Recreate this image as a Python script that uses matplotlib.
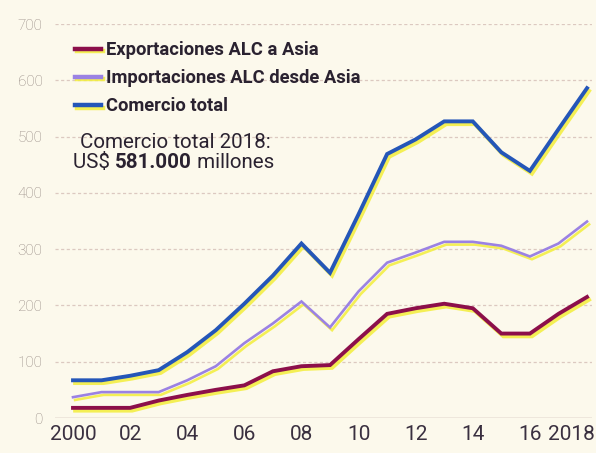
import matplotlib
matplotlib.use("Agg")
import matplotlib.pyplot as plt
import matplotlib.patheffects as pe
import matplotlib.transforms as mtransforms

# Datos (miles de millones de US$)
anos = list(range(2000, 2019))
exportaciones = [18, 18, 18, 31, 41, 50, 58, 83, 92, 94, 140, 185, 195, 203, 195, 150, 150, 185, 215]
importaciones = [37, 46, 46, 46, 67, 92, 133, 168, 207, 161, 225, 276, 294, 313, 313, 306, 287, 310, 349]
comercio_total = [67, 67, 75, 85, 117, 156, 203, 253, 310, 258, 362, 469, 495, 527, 527, 472, 439, 513, 586]

series = ["Exportaciones ALC a Asia", "Importaciones ALC desde Asia", "Comercio total"]
colores = ["#8c0f4a", "#9b82e3", "#2456b8"]
grosores = [2.8, 1.9, 2.8]

xticks = list(range(2000, 2019, 2))
xlabels = ["2000", "02", "04", "06", "08", "10", "12", "14", "16", "2018"]
yticks = list(range(0, 800, 100))

FONDO = "#fcf9ec"
TEXTO = "#2a2230"
FUENTE = ["Roboto", "DejaVu Sans"]

fig = plt.figure(figsize=(5.96, 4.53), dpi=100, facecolor=FONDO)
ax = fig.add_axes([55 / 596, 1 - 418 / 453, 537 / 596, 394 / 453], facecolor=FONDO)

sombra = [pe.SimpleLineShadow(offset=(1.5, -2.0), shadow_color="#f3ee3a", alpha=0.85), pe.Normal()]

for valores, nombre, color, lw in zip([exportaciones, importaciones, comercio_total], series, colores, grosores):
    ax.plot(anos, valores, color=color, lw=lw, label=nombre, solid_joinstyle="miter",
            path_effects=sombra, zorder=3)

ax.set_xlim(2000 - 18 / 28.55, 2018 + 5 / 28.55)
ax.set_ylim(0, 700)

ax.set_yticks(yticks)
ax.set_yticklabels([str(v) for v in yticks])
ax.set_xticks(xticks)
ax.set_xticklabels(xlabels)

for v in yticks[1:]:
    ax.axhline(v, color="#dcc9c0", lw=0.9, ls=(0, (2.5, 2)), zorder=1)
ax.axhline(0, color="#b59f9c", lw=1.0, zorder=2)

for s in ax.spines.values():
    s.set_visible(False)
ax.tick_params(axis="both", length=0)
ax.tick_params(axis="y", pad=9, labelsize=11, labelcolor="#928680")
ax.tick_params(axis="x", pad=5, labelsize=15, labelcolor="#3a3040")
for t in ax.get_xticklabels():
    t.set_family(FUENTE)
for t in ax.get_yticklabels():
    t.set_family(FUENTE)
    t.set_weight("light")

# el "2018" queda corrido a la izquierda para no salirse del borde
ult = ax.get_xticklabels()[-1]
ult.set_transform(ult.get_transform() + mtransforms.ScaledTranslation(-16 / 100, 0, fig.dpi_scale_trans))

leg = ax.legend(loc="upper left", bbox_to_anchor=(75 / 596, 1 - 41 / 453), bbox_transform=fig.transFigure,
                frameon=False, borderpad=0, borderaxespad=0, handlelength=1.4, handletextpad=0.28,
                labelspacing=0.55, prop={"family": FUENTE, "weight": "bold", "size": 13.2})
for t in leg.get_texts():
    t.set_color(TEXTO)
for h in leg.get_lines():
    h.set_linewidth(3.2)

# Anotación
estilo = dict(family=FUENTE, size=14.8, color=TEXTO, va="baseline")
fig.text(80 / 596, 1 - 148 / 453, "Comercio total 2018:", **estilo)
t1 = fig.text(73 / 596, 1 - 168 / 453, "US$ ", **estilo)
fig.canvas.draw()
r = fig.canvas.get_renderer()
x = t1.get_window_extent(r).x1
t2 = fig.text(x / fig.bbox.width, 1 - 168 / 453, "581.000", weight="bold", **estilo)
x = t2.get_window_extent(r).x1
fig.text(x / fig.bbox.width, 1 - 168 / 453, " millones", **estilo)

fig.savefig("out.png", dpi=100, facecolor=FONDO)
